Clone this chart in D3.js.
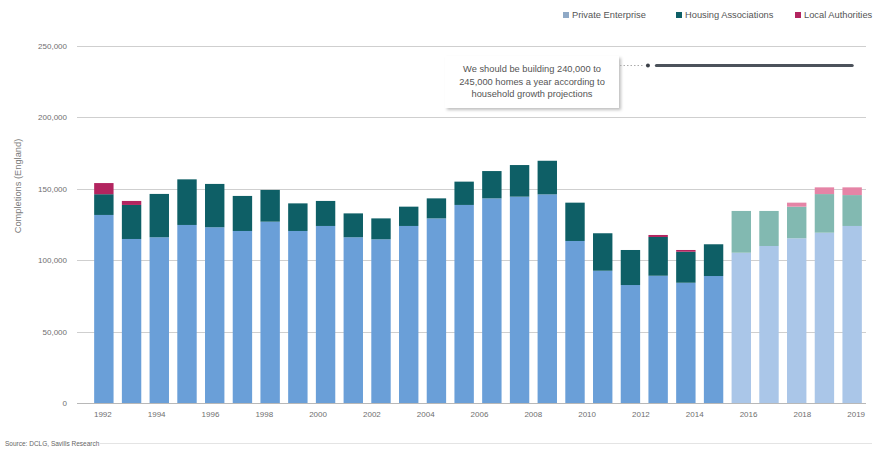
<!DOCTYPE html>
<html>
<head>
<meta charset="utf-8">
<script src="https://cdn.jsdelivr.net/npm/d3@7"></script>
<style>
  body { margin: 0; background: #fff; }
  svg { display: block; font-family: "Liberation Sans", Arial, sans-serif; }
</style>
</head>
<body>
<svg id="chart" width="879" height="452"></svg>
<script>
// Data (completions, England)
const years = d3.range(1992, 2020);
const privateEnterprise = [131500, 114700, 115900, 124500, 122900, 120300, 126800, 120300, 123800, 115900,
  114500, 123800, 129100, 138500, 143100, 144300, 145900, 113300, 92500, 82500,
  89000, 84100, 88800, 105100, 109800, 115200, 119100, 123800];
const housingAssociations = [14500, 23800, 30300, 31900, 30300, 24500, 22200, 19300, 17500, 16700,
  14600, 13500, 14000, 16300, 19100, 22100, 23500, 26800, 26200, 24500,
  27100, 21700, 22200, 29200, 24500, 22100, 27000, 21600];
const localAuthorities = [7800, 2800, 0, 0, 0, 0, 0, 0, 0, 0,
  0, 0, 0, 0, 0, 0, 0, 0, 0, 0,
  1400, 1200, 0, 0, 0, 2800, 4700, 5400];
const forecastFrom = 2015;
const tickYears = ["1992", "1994", "1996", "1998", "2000", "2002", "2004", "2006",
  "2008", "2010", "2012", "2014", "2016", "2018", "2019"];
const yTicks = [0, 50000, 100000, 150000, 200000, 250000];
const targetValue = 236000;

const seriesKeys = ["pe", "ha", "la"];
const seriesNames = ["Private Enterprise", "Housing Associations", "Local Authorities"];
const colors = { pe: "#6a9fd8", ha: "#0e5f66", la: "#b2245f" };
const colorsLight = { pe: "#aac6e8", ha: "#82b9b1", la: "#e584a6" };

const rows = years.map((y, i) => ({
  year: y, pe: privateEnterprise[i], ha: housingAssociations[i], la: localAuthorities[i]
}));

const svg = d3.select("#chart");

const x = d3.scaleBand()
  .domain(years)
  .range([90, 866])
  .paddingInner(0.3)
  .paddingOuter(0.15);

const y = d3.scaleLinear()
  .domain([0, 250000])
  .range([403, 45.5]);

// gridlines
svg.append("g")
  .selectAll("line")
  .data(yTicks)
  .enter()
  .append("line")
  .attr("x1", 77)
  .attr("x2", 866)
  .attr("y1", d => Math.round(y(d)) + 0.5)
  .attr("y2", d => Math.round(y(d)) + 0.5)
  .attr("stroke", d => d === 0 ? "#b8b8b8" : "#cfcfcf")
  .attr("stroke-width", 1);

// y labels
const yAxis = d3.axisLeft(y)
  .tickValues(yTicks)
  .tickFormat(d3.format(","))
  .tickSize(0)
  .tickPadding(0);

svg.append("g")
  .attr("transform", "translate(67,0)")
  .call(yAxis)
  .call(g => g.select(".domain").remove())
  .call(g => g.selectAll("text")
    .attr("fill", "#6f6f6f")
    .attr("font-size", 8)
    .attr("font-family", "Liberation Sans, Arial, sans-serif"));

svg.append("text")
  .attr("transform", "translate(21,186) rotate(-90)")
  .attr("text-anchor", "middle")
  .attr("fill", "#7a7a7a")
  .attr("font-size", 9.3)
  .text("Completions (England)");

// stacked bars
const stack = d3.stack().keys(seriesKeys)(rows);

svg.append("g")
  .selectAll("g")
  .data(stack)
  .enter()
  .append("g")
  .selectAll("rect")
  .data(d => d.map(v => ({ key: d.key, v })))
  .enter()
  .append("rect")
  .attr("x", d => x(d.v.data.year))
  .attr("width", x.bandwidth())
  .attr("y", d => y(d.v[1]))
  .attr("height", d => y(d.v[0]) - y(d.v[1]))
  .attr("fill", d => d.v.data.year >= forecastFrom ? colorsLight[d.key] : colors[d.key]);

// x labels
const xLabel = d3.scalePoint()
  .domain(tickYears)
  .range([x(1992) + x.bandwidth() / 2 - 1, x(2019) + x.bandwidth() / 2 + 4]);

svg.append("g")
  .selectAll("text")
  .data(tickYears)
  .enter()
  .append("text")
  .attr("x", d => xLabel(d))
  .attr("y", 417)
  .attr("text-anchor", "middle")
  .attr("fill", "#6f6f6f")
  .attr("font-size", 8)
  .text(d => d);

// annotation
const defs = svg.append("defs");
const f = defs.append("filter").attr("id", "shadow")
  .attr("x", "-10%").attr("y", "-10%").attr("width", "130%").attr("height", "140%");
f.append("feDropShadow")
  .attr("dx", 2).attr("dy", 2).attr("stdDeviation", 1.5)
  .attr("flood-color", "#000").attr("flood-opacity", 0.25);

const ty = y(targetValue);

svg.append("rect")
  .attr("x", 445)
  .attr("y", 56)
  .attr("width", 174)
  .attr("height", 52)
  .attr("fill", "#fff")
  .attr("filter", "url(#shadow)");

const noteLines = ["We should be building 240,000 to",
  "245,000 homes a year according to",
  "household growth projections"];
svg.append("g")
  .selectAll("text")
  .data(noteLines)
  .enter()
  .append("text")
  .attr("x", 532)
  .attr("y", (d, i) => 72 + i * 12.5)
  .attr("text-anchor", "middle")
  .attr("fill", "#555")
  .attr("font-size", 9.3)
  .text(d => d);

svg.append("line")
  .attr("x1", 620).attr("x2", 644)
  .attr("y1", ty).attr("y2", ty)
  .attr("stroke", "#aaa")
  .attr("stroke-dasharray", "1.5,2");

svg.append("circle")
  .attr("cx", x(2012) - 0.5)
  .attr("cy", ty)
  .attr("r", 2)
  .attr("fill", "#3b4048");

svg.append("line")
  .attr("x1", x(2012) + 8)
  .attr("x2", x(2019) + x.bandwidth() / 2)
  .attr("y1", ty).attr("y2", ty)
  .attr("stroke", "#4c525b")
  .attr("stroke-width", 3.2)
  .attr("stroke-linecap", "round");

// legend
const legendX = [563, 676, 795];
const lg = svg.append("g")
  .selectAll("g")
  .data(seriesKeys)
  .enter()
  .append("g")
  .attr("transform", (d, i) => "translate(" + legendX[i] + ",12)");
lg.append("rect")
  .attr("width", 6).attr("height", 6)
  .attr("fill", (d, i) => i === 0 ? "#8fa9c6" : colors[d]);
lg.append("text")
  .attr("x", 9).attr("y", 6)
  .attr("fill", "#555")
  .attr("font-size", 9.3)
  .text((d, i) => seriesNames[i]);

// source
svg.append("text")
  .attr("x", 5)
  .attr("y", 446)
  .attr("fill", "#666")
  .attr("font-size", 6.5)
  .text("Source: DCLG, Savills Research");

svg.append("line")
  .attr("x1", 100).attr("x2", 872)
  .attr("y1", 443.5).attr("y2", 443.5)
  .attr("stroke", "#e4e4e4");
</script>
</body>
</html>
